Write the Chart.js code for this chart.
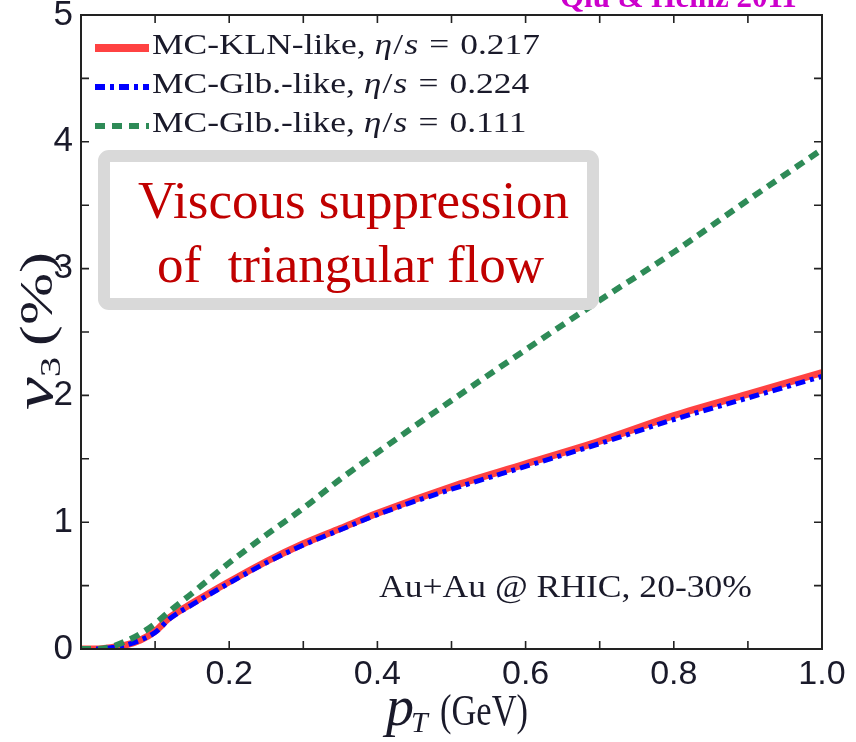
<!DOCTYPE html>
<html>
<head>
<meta charset="utf-8">
<script src="https://cdn.jsdelivr.net/npm/chart.js@4.4.1/dist/chart.umd.min.js"></script>
<style>
  html, body { margin: 0; padding: 0; background: #fff; }
  canvas { display: block; }
</style>
</head>
<body>
<canvas id="chart" width="856" height="742"></canvas>
<script>
// pT grid (GeV) and v3 (%)
const pt = [0, 0.02, 0.04, 0.06, 0.08, 0.1, 0.12, 0.15, 0.2, 0.25, 0.3, 0.35, 0.4, 0.5, 0.6, 0.7, 0.8, 0.9, 1.0];
const kln217 = [0, 0, 0.01, 0.03, 0.07, 0.14, 0.25, 0.36, 0.53, 0.69, 0.83, 0.95, 1.07, 1.28, 1.46, 1.64, 1.84, 2.01, 2.18];
const glb224 = [0, 0, 0.01, 0.03, 0.07, 0.13, 0.24, 0.35, 0.52, 0.68, 0.82, 0.94, 1.06, 1.26, 1.44, 1.62, 1.81, 1.98, 2.15];
const glb111 = [0, 0, 0.015, 0.06, 0.12, 0.2, 0.3, 0.44, 0.68, 0.9, 1.11, 1.34, 1.55, 1.96, 2.36, 2.75, 3.13, 3.54, 3.94];

const xLabels = ['0.2', '0.4', '0.6', '0.8', '1.0'];
const yLabels = ['0', '1', '2', '3', '4', '5'];

const legendNames = ['MC-KLN-like, ', 'MC-Glb.-like, ', 'MC-Glb.-like, '];
const legendValues = ['0.217', '0.224', '0.111'];

const RED = '#ff4242';
const BLUE = '#0000ff';
const GREEN = '#2e8b57';
const SERIF = '"Liberation Serif", "Times New Roman", serif';
const SANS = '"Liberation Sans", Arial, sans-serif';

function toPoints(ys) {
  return pt.map((x, i) => ({ x: x, y: ys[i] }));
}

// draw text made of pieces with different fonts, left to right
function drawPieces(ctx, x, y, pieces, measureOnly) {
  const x0 = x;
  pieces.forEach(p => {
    ctx.font = p.font;
    if (!measureOnly) ctx.fillText(p.text, x + (p.dx || 0), y + (p.dy || 0));
    x += ctx.measureText(p.text).width + (p.dx || 0) + (p.after || 0);
  });
  return x - x0;
}

// same, but stretched horizontally to a given width
function drawFitted(ctx, x, y, pieces, width) {
  const w = drawPieces(ctx, 0, 0, pieces, true);
  ctx.save();
  ctx.translate(x, y);
  ctx.scale(width / w, 1);
  drawPieces(ctx, 0, 0, pieces);
  ctx.restore();
}

function legendPieces(i) {
  return [
    { text: legendNames[i], font: '29px ' + SERIF },
    { text: 'η', font: 'italic 29px ' + SERIF, after: 1 },
    { text: '/', font: '29px ' + SERIF, after: 1 },
    { text: 's', font: 'italic 29px ' + SERIF, after: 9 },
    { text: '=', font: '29px ' + SERIF, after: 9 },
    { text: legendValues[i], font: '29px ' + SERIF }
  ];
}

const frameAndDecor = {
  id: 'frameAndDecor',
  afterDatasetsDraw(chart) {
    const ctx = chart.ctx;
    const a = chart.chartArea;
    const xs = chart.scales.x;
    const ys = chart.scales.y;
    ctx.save();

    // frame
    ctx.strokeStyle = '#222';
    ctx.lineWidth = 2;
    ctx.strokeRect(a.left, a.top, a.right - a.left, a.bottom - a.top);

    // inward ticks on all four sides
    ctx.lineWidth = 1.6;
    ctx.beginPath();
    for (let i = 1; i < 10; i++) {
      const px = xs.getPixelForValue(i / 10);
      ctx.moveTo(px, a.bottom); ctx.lineTo(px, a.bottom - 8);
      ctx.moveTo(px, a.top); ctx.lineTo(px, a.top + 8);
    }
    for (let i = 1; i < 10; i++) {
      const py = ys.getPixelForValue(i / 2);
      ctx.moveTo(a.left, py); ctx.lineTo(a.left + 8, py);
      ctx.moveTo(a.right, py); ctx.lineTo(a.right - 8, py);
    }
    ctx.stroke();

    // legend
    const ds = chart.data.datasets;
    const rowY = [48, 87, 126];
    ctx.textAlign = 'left';
    ctx.textBaseline = 'alphabetic';
    const stretch = 388 / drawPieces(ctx, 0, 0, legendPieces(0), true);
    ds.forEach((d, i) => {
      ctx.strokeStyle = d.borderColor;
      ctx.lineWidth = i === 0 ? 8 : 6;
      ctx.setLineDash(d.borderDash || []);
      ctx.beginPath();
      ctx.moveTo(95, rowY[i]);
      ctx.lineTo(149, rowY[i]);
      ctx.stroke();
      ctx.setLineDash([]);
      ctx.fillStyle = '#1a1a2a';
      const pieces = legendPieces(i);
      const w = drawPieces(ctx, 0, 0, pieces, true);
      drawFitted(ctx, 152, rowY[i] + 6, pieces, w * stretch);
    });

    // annotation box
    ctx.fillStyle = '#fff';
    ctx.strokeStyle = '#d9d9d9';
    ctx.lineWidth = 12;
    ctx.beginPath();
    ctx.roundRect(104, 156, 489, 148, 5);
    ctx.fill();
    ctx.stroke();
    ctx.fillStyle = '#c00000';
    ctx.font = '53px ' + SERIF;
    ctx.fillText('Viscous suppression', 138, 218);
    ctx.fillText('of  triangular flow', 157, 282);

    // system label
    ctx.fillStyle = '#1a1a2a';
    drawFitted(ctx, 379, 597, [{ text: 'Au+Au @ RHIC, 20-30%', font: '32px ' + SERIF }], 373);

    // reference tag cut off at the top
    ctx.fillStyle = '#cc00cc';
    ctx.font = 'bold 31px ' + SERIF;
    ctx.fillText('Qiu & Heinz 2011', 560, 7);

    // x axis title
    ctx.fillStyle = '#1a1a2a';
    drawPieces(ctx, 386, 725, [
      { text: 'p', font: 'italic 56px ' + SERIF, after: -3 },
      { text: 'T', font: 'italic 30px ' + SERIF, dy: 7, after: 4 }
    ]);
    drawFitted(ctx, 440, 725, [{ text: '(GeV)', font: '44px ' + SERIF }], 88);

    // y axis title
    ctx.translate(52, 410);
    ctx.rotate(-Math.PI / 2);
    drawFitted(ctx, 0, 0, [
      { text: 'v', font: 'italic 54px ' + SERIF },
      { text: '3', font: '30px ' + SERIF, dy: 8, after: 8 },
      { text: '(%)', font: '46px ' + SERIF }
    ], 158);

    ctx.restore();
  }
};

new Chart(document.getElementById('chart'), {
  type: 'line',
  data: {
    datasets: [
      {
        label: 'MC-KLN-like, η/s = 0.217',
        data: toPoints(kln217),
        borderColor: RED,
        borderWidth: 7,
        order: 3
      },
      {
        label: 'MC-Glb.-like, η/s = 0.224',
        data: toPoints(glb224),
        borderColor: BLUE,
        borderWidth: 5,
        borderDash: [10, 5, 4, 5],
        order: 2
      },
      {
        label: 'MC-Glb.-like, η/s = 0.111',
        data: toPoints(glb111),
        borderColor: GREEN,
        borderWidth: 6,
        borderDash: [10, 7],
        order: 1
      }
    ]
  },
  options: {
    responsive: false,
    animation: false,
    layout: { padding: { left: 0, top: 15, right: 34, bottom: 0 } },
    elements: {
      point: { radius: 0 },
      line: { cubicInterpolationMode: 'monotone', fill: false }
    },
    plugins: {
      legend: { display: false },
      tooltip: { enabled: false }
    },
    scales: {
      x: {
        type: 'linear',
        min: 0,
        max: 1,
        grid: { display: false, drawTicks: false },
        border: { display: false },
        ticks: {
          stepSize: 0.1,
          padding: 9,
          color: '#1a1a2a',
          font: { family: SANS, size: 34, lineHeight: 1 },
          maxRotation: 0,
          autoSkip: false,
          callback: (v) => {
            const k = Math.round(v * 10);
            return (k > 0 && k % 2 === 0) ? xLabels[k / 2 - 1] : '';
          }
        },
        afterFit: (s) => { s.height = 93; s.paddingRight = 0; s.paddingLeft = 0; }
      },
      y: {
        min: 0,
        max: 5,
        grid: { display: false, drawTicks: false },
        border: { display: false },
        ticks: {
          stepSize: 0.5,
          padding: 8,
          color: '#1a1a2a',
          font: { family: SANS, size: 35, lineHeight: 0.8 },
          autoSkip: false,
          callback: (v) => Number.isInteger(v) ? yLabels[v] : ''
        },
        afterFit: (s) => { s.width = 81; s.paddingTop = 0; s.paddingBottom = 0; }
      }
    }
  },
  plugins: [frameAndDecor]
});
</script>
</body>
</html>
